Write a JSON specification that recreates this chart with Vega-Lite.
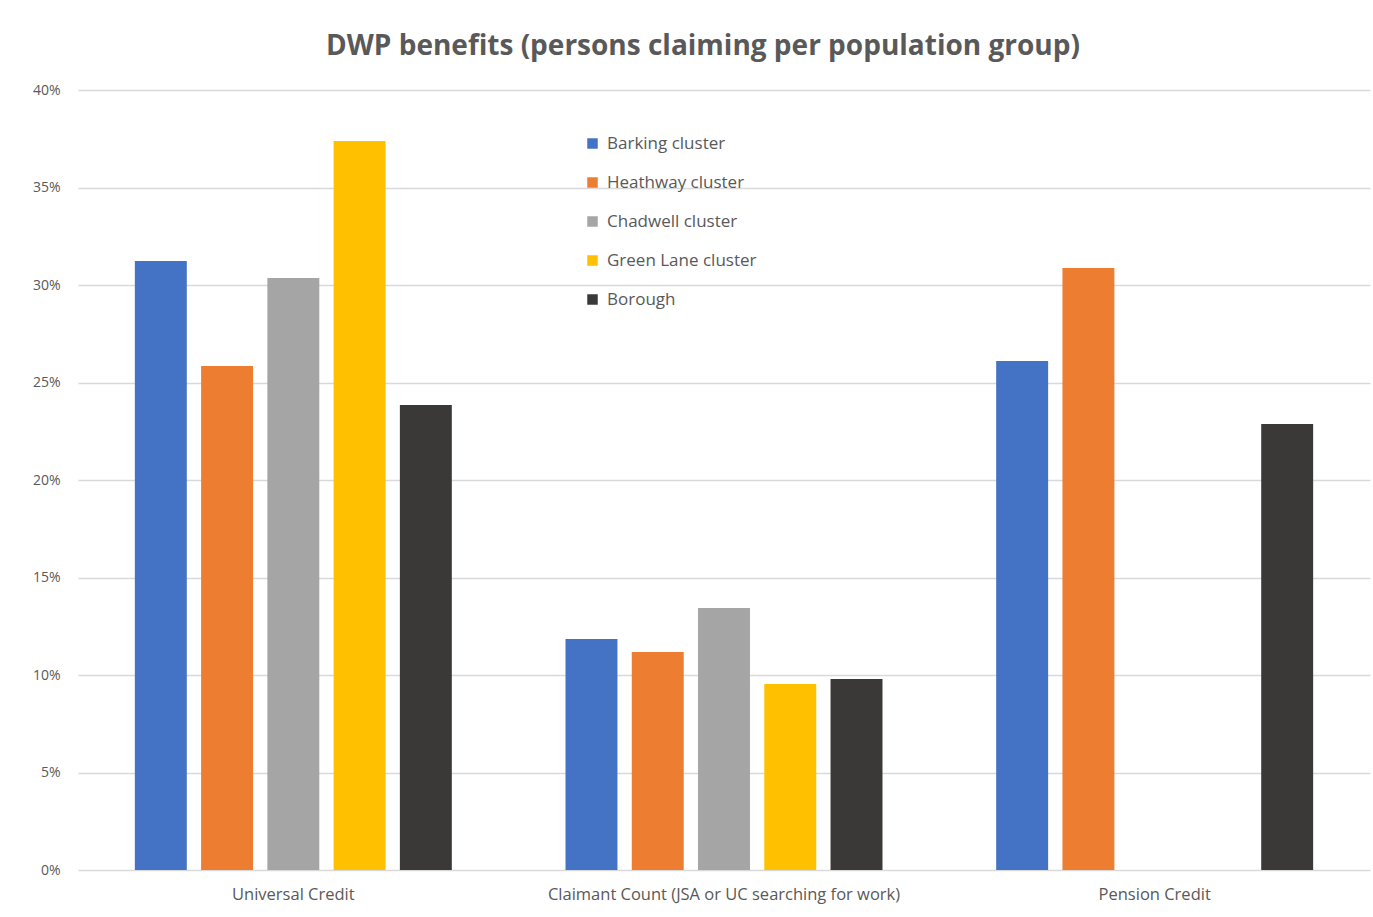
{
  "$schema": "https://vega.github.io/schema/vega-lite/v6.json",
  "autosize": {"type": "none"},
  "padding": {"left": 78, "top": 90, "right": 3, "bottom": 47},
  "width": 1292,
  "height": 780,
  "background": "white",
  "title": {
    "text": "DWP benefits (persons claiming per population group)",
    "font": "Open Sans",
    "fontSize": 28,
    "fontWeight": "bold",
    "color": "#595959",
    "anchor": "middle",
    "dx": -21,
    "offset": 22
  },
  "data": {
    "values": [
      {"benefit": "Universal Credit", "group": "Barking cluster", "value": 0.3123},
      {"benefit": "Universal Credit", "group": "Heathway cluster", "value": 0.2585},
      {"benefit": "Universal Credit", "group": "Chadwell cluster", "value": 0.3036},
      {"benefit": "Universal Credit", "group": "Green Lane cluster", "value": 0.3738},
      {"benefit": "Universal Credit", "group": "Borough", "value": 0.2385},
      {"benefit": "Claimant Count (JSA or UC searching for work)", "group": "Barking cluster", "value": 0.1185},
      {"benefit": "Claimant Count (JSA or UC searching for work)", "group": "Heathway cluster", "value": 0.1118},
      {"benefit": "Claimant Count (JSA or UC searching for work)", "group": "Chadwell cluster", "value": 0.1344},
      {"benefit": "Claimant Count (JSA or UC searching for work)", "group": "Green Lane cluster", "value": 0.0954},
      {"benefit": "Claimant Count (JSA or UC searching for work)", "group": "Borough", "value": 0.0979},
      {"benefit": "Pension Credit", "group": "Barking cluster", "value": 0.261},
      {"benefit": "Pension Credit", "group": "Heathway cluster", "value": 0.3087},
      {"benefit": "Pension Credit", "group": "Borough", "value": 0.2287}
    ]
  },
  "mark": {"type": "bar"},
  "encoding": {
    "x": {
      "field": "benefit",
      "type": "nominal",
      "sort": ["Universal Credit", "Claimant Count (JSA or UC searching for work)", "Pension Credit"],
      "scale": {"paddingInner": 0, "paddingOuter": 0},
      "axis": {
        "title": null,
        "labelAngle": 0,
        "ticks": false,
        "domain": false,
        "labelFont": "Open Sans",
        "labelFontSize": 16.5,
        "labelColor": "#595959",
        "labelPadding": 16,
        "labelLimit": 500
      }
    },
    "xOffset": {
      "field": "group",
      "type": "nominal",
      "sort": ["Barking cluster", "Heathway cluster", "Chadwell cluster", "Green Lane cluster", "Borough"],
      "scale": {"paddingInner": 0.216, "paddingOuter": 0.858}
    },
    "y": {
      "field": "value",
      "type": "quantitative",
      "scale": {"domain": [0, 0.4], "nice": false},
      "axis": {
        "title": null,
        "format": ".0%",
        "values": [0, 0.05, 0.1, 0.15, 0.2, 0.25, 0.3, 0.35, 0.4],
        "ticks": false,
        "domain": false,
        "grid": true,
        "gridColor": "#d9d9d9",
        "gridWidth": 1.5,
        "labelFont": "Open Sans",
        "labelFontSize": 14,
        "labelColor": "#595959",
        "labelPadding": 18
      }
    },
    "color": {
      "field": "group",
      "type": "nominal",
      "sort": ["Barking cluster", "Heathway cluster", "Chadwell cluster", "Green Lane cluster", "Borough"],
      "scale": {
        "domain": ["Barking cluster", "Heathway cluster", "Chadwell cluster", "Green Lane cluster", "Borough"],
        "range": ["#4472C4", "#ED7D31", "#A5A5A5", "#FFC000", "#3A3937"]
      },
      "legend": {
        "title": null,
        "orient": "none",
        "legendX": 506,
        "legendY": 45,
        "symbolType": "square",
        "symbolSize": 110,
        "symbolStrokeWidth": 0,
        "labelFont": "Open Sans",
        "labelFontSize": 17,
        "labelColor": "#595959",
        "labelOffset": 6,
        "rowPadding": 21
      }
    }
  },
  "config": {
    "view": {"stroke": null}
  }
}
